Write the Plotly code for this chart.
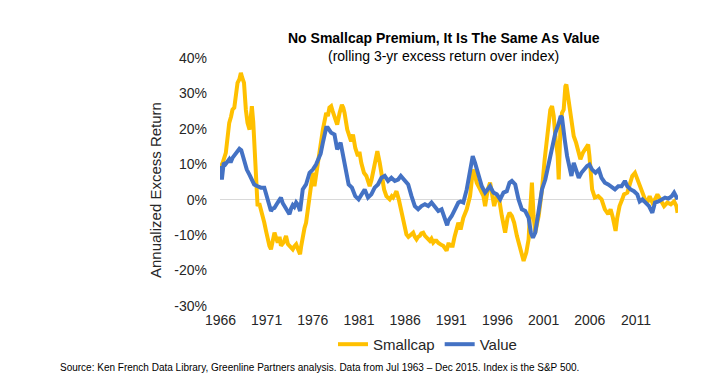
import plotly.graph_objects as go

# ---- data ----
small_years = [1966.45, 1966.7, 1967.03, 1967.2, 1967.4, 1967.6, 1967.75, 1967.95, 1968.1, 1968.3, 1968.5, 1968.66,
               1968.8, 1969.0, 1969.2, 1969.38, 1969.6, 1969.75, 1969.85, 1970.0, 1970.1, 1970.29, 1970.47, 1970.65,
               1970.83, 1971.0, 1971.2, 1971.4, 1971.56, 1971.75, 1971.92, 1972.1, 1972.3, 1972.5, 1972.65, 1972.85,
               1973.0, 1973.3, 1973.55, 1973.75, 1973.92, 1974.1, 1974.28, 1974.45, 1974.65, 1974.85, 1975.07, 1975.2,
               1975.36, 1975.55, 1975.72, 1975.9, 1976.1, 1976.3, 1976.45, 1976.63, 1976.8, 1976.99, 1977.25, 1977.54,
               1977.9, 1978.08, 1978.25, 1978.44, 1978.6, 1978.8, 1979.09, 1979.35, 1979.6, 1979.75, 1979.89, 1980.18,
               1980.44, 1980.6, 1980.8, 1981.05, 1981.34, 1981.5, 1981.7, 1981.99, 1982.25, 1982.45, 1982.61, 1982.8,
               1982.97, 1983.26, 1983.44, 1983.7, 1983.88, 1984.17, 1984.42, 1984.6, 1984.78, 1985.0, 1985.15, 1985.35,
               1985.51, 1985.76, 1986.05, 1986.34, 1986.59, 1986.8, 1986.96, 1987.15, 1987.32, 1987.5, 1987.68, 1987.85,
               1988.04, 1988.2, 1988.41, 1988.6, 1988.77, 1989.0, 1989.13, 1989.3, 1989.49, 1989.67, 1989.85, 1990.05,
               1990.22, 1990.4, 1990.58, 1990.75, 1990.94, 1991.12, 1991.23, 1991.4, 1991.6, 1991.8, 1991.96, 1992.21,
               1992.46, 1992.6, 1992.75, 1993.12, 1993.48, 1993.65, 1993.77, 1993.95, 1994.2, 1994.57, 1994.93, 1995.11,
               1995.25, 1995.4, 1995.65, 1995.83, 1996.09, 1996.38, 1996.67, 1996.92, 1997.28, 1997.54, 1997.75, 1998.01,
               1998.26, 1998.55, 1998.91, 1999.1, 1999.28, 1999.57, 1999.82, 2000.0, 2000.18, 2000.36, 2000.54, 2000.91,
               2001.27, 2001.56, 2001.88, 2002.17, 2002.36, 2002.54, 2002.72, 2002.97, 2003.08, 2003.26, 2003.44, 2003.62,
               2003.8, 2003.91, 2004.09, 2004.35, 2004.53, 2004.71, 2004.96, 2005.18, 2005.43, 2005.69, 2005.98, 2006.27,
               2006.41, 2006.52, 2006.7, 2006.99, 2007.36, 2007.72, 2008.08, 2008.44, 2008.7, 2008.95, 2009.24, 2009.42,
               2009.67, 2009.96, 2010.15, 2010.51, 2010.76, 2011.05, 2011.34, 2011.59, 2011.85, 2012.14, 2012.43, 2012.68,
               2012.93, 2013.22, 2013.51, 2013.77, 2014.13, 2014.49, 2014.85, 2015.22, 2015.58, 2015.83, 2015.95]
smallcap = [9.0, 10.5, 13.2, 17.0, 21.7, 23.5, 25.4, 26.0, 30.1, 33.0, 34.0, 35.8,
            34.5, 33.0, 25.4, 21.7, 19.8, 23.0, 26.4, 22.0, 17.0, 5.7, -1.8, -1.0,
            -2.7, -4.0, -6.5, -9.0, -11.2, -13.0, -14.0, -11.5, -9.3, -11.0, -12.1, -10.5,
            -13.0, -12.0, -10.2, -12.5, -13.0, -13.8, -14.0, -13.2, -12.6, -14.0, -15.4, -13.0,
            -10.2, -8.0, -6.5, -3.0, 1.0, 6.0, 7.6, 3.8, 7.0, 10.4, 15.0, 19.8,
            24.5, 23.6, 26.0, 26.4, 25.0, 23.6, 21.2, 24.5, 26.8, 26.0, 24.5, 19.8,
            17.5, 16.5, 18.4, 14.6, 12.3, 13.5, 10.4, 7.6, 6.7, 5.0, 3.8, 5.5,
            7.6, 11.4, 13.7, 10.4, 6.7, 2.9, 1.0, 0.5, 0.1, 1.0, 0.6, 1.5,
            2.4, 0.1, -3.7, -7.4, -9.8, -10.5, -10.2, -9.5, -9.3, -10.5, -11.2, -10.5,
            -10.2, -9.5, -9.3, -10.2, -10.7, -11.2, -11.6, -11.0, -12.1, -11.6, -11.6, -12.2,
            -12.6, -12.8, -13.0, -13.5, -14.4, -12.6, -12.6, -13.0, -13.0, -10.5, -8.4, -6.5,
            -8.4, -7.0, -5.1, -2.7, 1.0, 5.0, 8.5, 7.6, 4.8, 2.9, 1.0, -1.8,
            0.5, 2.9, 4.8, 2.0, -1.8, 1.0, -0.5, -4.6, -9.3, -5.1, -3.7, -4.6,
            -6.5, -10.2, -14.0, -15.5, -17.3, -14.9, -11.2, -2.7, 4.8, -4.6, -9.3, -4.6,
            2.9, 11.4, 19.8, 25.4, 26.4, 23.6, 17.9, 12.3, 5.7, 19.8, 24.5, 25.4,
            32.0, 32.5, 29.2, 23.6, 19.8, 17.9, 16.1, 14.2, 11.4, 13.2, 14.2, 15.6,
            12.3, 7.6, 2.9, 0.6, 1.0, 0.1, -2.7, -4.1, -2.7, -5.1, -8.8, -5.1,
            -1.8, 0.1, 1.5, 2.0, 3.8, 6.7, 7.6, 5.7, 3.8, 2.0, 0.1, -0.8,
            1.0, -0.8, 0.1, 1.5, 0.1, -1.8, -0.8, -1.3, -0.5, -1.8, -3.7]

value_years = [1966.45, 1966.6, 1966.8, 1967.0, 1967.4, 1967.55, 1967.75, 1968.1, 1968.3, 1968.5, 1968.7, 1968.9,
               1969.0, 1969.3, 1969.6, 1969.75, 1970.1, 1970.47, 1970.83, 1971.2, 1971.56, 1971.92, 1972.1, 1972.3,
               1972.65, 1973.0, 1973.2, 1973.55, 1973.92, 1974.1, 1974.28, 1974.45, 1974.65, 1974.85, 1975.07, 1975.36,
               1975.55, 1975.72, 1976.1, 1976.45, 1976.8, 1977.1, 1977.3, 1977.54, 1977.9, 1978.08, 1978.44, 1978.8,
               1979.09, 1979.46, 1979.71, 1980.07, 1980.33, 1980.69, 1981.05, 1981.41, 1981.7, 1982.07, 1982.43, 1982.79,
               1983.15, 1983.51, 1983.88, 1984.24, 1984.6, 1984.96, 1985.33, 1985.69, 1985.98, 1986.34, 1986.78, 1987.14,
               1987.5, 1987.86, 1988.22, 1988.59, 1988.95, 1989.31, 1989.67, 1990.04, 1990.4, 1990.76, 1991.0, 1991.12,
               1991.49, 1991.85, 1992.21, 1992.46, 1992.75, 1993.12, 1993.48, 1993.77, 1994.02, 1994.38, 1994.75, 1995.11,
               1995.47, 1995.65, 1996.01, 1996.38, 1996.74, 1997.1, 1997.46, 1997.75, 1998.01, 1998.37, 1998.73, 1999.09,
               1999.46, 1999.82, 2000.07, 2000.29, 2000.54, 2000.91, 2001.27, 2001.63, 2001.99, 2002.36, 2002.72, 2003.08,
               2003.3, 2003.44, 2003.55, 2003.73, 2003.99, 2004.24, 2004.46, 2004.71, 2004.96, 2005.25, 2005.54, 2005.8,
               2006.16, 2006.41, 2006.7, 2007.07, 2007.43, 2007.72, 2008.08, 2008.44, 2008.81, 2009.17, 2009.53, 2009.89,
               2010.25, 2010.51, 2010.87, 2011.23, 2011.59, 2011.85, 2012.14, 2012.5, 2012.86, 2013.22, 2013.51, 2013.88,
               2014.24, 2014.6, 2014.96, 2015.33, 2015.58, 2015.83, 2015.95]
value = [9.5, 5.7, 10.4, 10.0, 11.4, 10.5, 11.8, 13.2, 13.8, 14.4, 14.0, 12.0,
         11.4, 8.5, 7.0, 6.2, 4.3, 3.8, 3.4, 3.4, 0.1, -3.2, -2.5, -2.3,
         -0.8, 0.6, -1.0, -2.3, -4.1, -2.5, -1.5, -2.0, -0.8, -1.5, -3.2, 2.9,
         3.5, 4.3, 7.6, 8.5, 9.9, 11.4, 13.0, 16.1, 20.3, 20.3, 18.9, 18.4,
         14.2, 16.1, 12.3, 7.6, 4.3, 3.4, 1.0, 0.1, 1.5, 2.9, 0.6, 1.5,
         3.4, 4.3, 6.2, 6.7, 5.3, 6.2, 5.3, 5.7, 6.7, 5.7, 4.3, 1.0,
         -1.8, -2.7, -1.8, -1.3, -1.8, -0.8, -1.8, -3.2, -2.7, -5.0, -7.2, -6.0,
         -4.6, -2.7, -0.8, -0.5, -0.8, 2.9, 7.6, 12.3, 10.4, 6.7, 3.8, 2.0,
         3.4, 3.8, 2.0, 1.5, 0.1, 2.0, 2.4, 4.8, 5.3, 4.3, 0.1, -2.7,
         -3.2, -5.1, -9.3, -10.7, -9.3, -3.7, 2.9, 5.7, 10.4, 15.1, 18.9, 21.5,
         23.6, 23.2, 19.8, 17.0, 12.3, 9.5, 6.7, 10.4, 8.5, 6.2, 7.6, 8.5,
         9.5, 9.9, 8.5, 7.6, 8.5, 6.2, 4.8, 4.3, 3.4, 2.9, 3.8, 3.8,
         5.3, 3.8, 2.9, 2.4, 1.5, -0.5, 0.1, -0.8, -1.8, -3.7, -0.8, -0.5,
         0.1, 0.6, 0.3, 1.0, 2.0, 1.0, 0.1]

tick_years = [1966, 1971, 1976, 1981, 1986, 1991, 1996, 2001, 2006, 2011]
y_ticks = [-30, -20, -10, 0, 10, 20, 30, 40]
y_tick_labels = ["-30%", "-20%", "-10%", "0%", "10%", "20%", "30%", "40%"]

fig = go.Figure()
fig.add_trace(go.Scatter(x=small_years, y=smallcap, mode="lines", name="Smallcap",
                         line=dict(color="#FFC000", width=4)))
fig.add_trace(go.Scatter(x=value_years, y=value, mode="lines", name="Value",
                         line=dict(color="#4472C4", width=4)))

font_main = "Arial, Liberation Sans, sans-serif"
fig.update_layout(
    width=716, height=373,
    margin=dict(l=212, r=46, t=50, b=75),
    paper_bgcolor="white", plot_bgcolor="white",
    font=dict(family=font_main, color="#262626"),
    showlegend=True,
    legend=dict(orientation="h", x=0.453, xanchor="center", y=-0.155, yanchor="middle",
                font=dict(size=15, color="#262626"), tracegroupgap=0,
                bgcolor="rgba(0,0,0,0)"),
    xaxis=dict(range=[1966.4, 2016.0], showgrid=False, zeroline=False, showline=False,
               tickvals=[y + 0.45 for y in tick_years], ticktext=[str(y) for y in tick_years],
               tickfont=dict(size=14, color="#262626"), ticks="", ticklabelstandoff=4),
    yaxis=dict(range=[-30, 40], showgrid=False, zeroline=True, zerolinecolor="#D9D9D9",
               zerolinewidth=1, showline=False, tickmode="array", tickvals=y_ticks,
               ticktext=y_tick_labels,
               tickfont=dict(size=14, color="#262626"), ticks="", ticklabelstandoff=12),
    annotations=[
        dict(text="<b>No Smallcap Premium, It Is The Same As Value</b>", xref="paper", yref="paper",
             x=0.489, y=1.0 + (50 - 30) / 248, xanchor="center", yanchor="middle", showarrow=False,
             font=dict(size=14, color="#000000")),
        dict(text="(rolling 3-yr excess return over index)", xref="paper", yref="paper",
             x=0.489, y=1.0 + (50 - 48) / 248, xanchor="center", yanchor="middle", showarrow=False,
             font=dict(size=14, color="#000000")),
        dict(text="Annualized Excess Return", xref="paper", yref="paper", textangle=-90,
             x=(147 - 212) / 458, y=(298 - 182) / 248, xanchor="center", yanchor="middle",
             showarrow=False, font=dict(size=15, color="#262626")),
        dict(text="Source: Ken French Data Library, Greenline Partners analysis. Data from Jul 1963 \u2013 Dec 2015. Index is the S&P 500.",
             xref="paper", yref="paper", x=(50 - 212) / 458, y=(298 - 359) / 248,
             xanchor="left", yanchor="middle", showarrow=False,
             font=dict(size=10, color="#000000", family="Liberation Sans Narrow, Arial Narrow, Arial")),
    ],
)

fig.write_html("out.html")
